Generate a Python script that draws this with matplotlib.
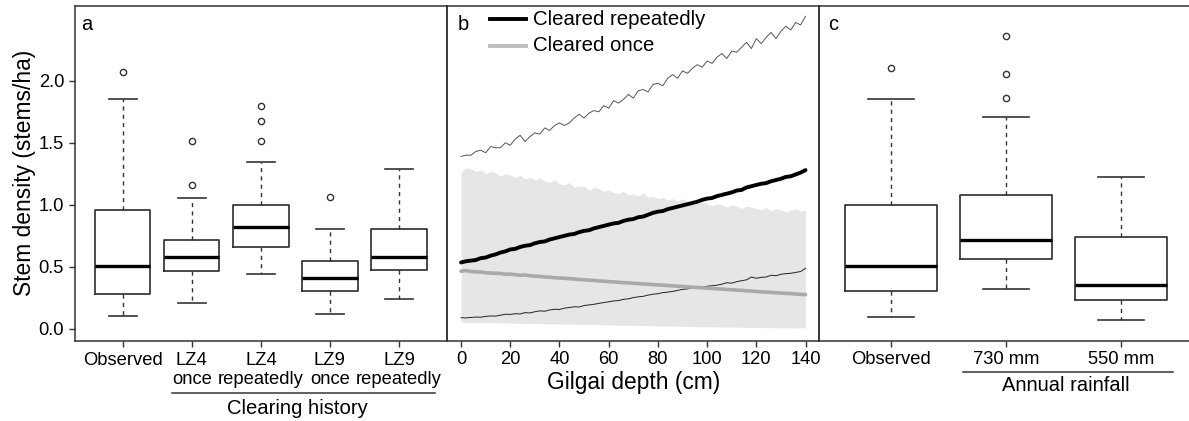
import matplotlib
matplotlib.use("Agg")
import matplotlib.pyplot as plt

plt.rcParams['font.family'] = ['Liberation Sans', 'DejaVu Sans']

# ---------------- data ----------------
# Panel a: clearing history
cats_a = ["Observed", "LZ4\nonce", "LZ4\nrepeatedly", "LZ9\nonce", "LZ9\nrepeatedly"]
a_whislo = [0.10, 0.21, 0.444, 0.118, 0.237]
a_q1 = [0.28, 0.465, 0.657, 0.304, 0.473]
a_med = [0.503, 0.581, 0.818, 0.412, 0.576]
a_q3 = [0.955, 0.716, 0.999, 0.546, 0.802]
a_whishi = [1.85, 1.052, 1.343, 0.802, 1.292]
a_fliers = [[2.073], [1.515, 1.163], [1.80, 1.675, 1.515], [1.066], []]

# Panel b: gilgai depth
depth = list(range(0, 141, 2))
rep_upper = [1.39, 1.40, 1.40, 1.43, 1.44, 1.42, 1.47, 1.46, 1.46, 1.50,
             1.48, 1.53, 1.56, 1.51, 1.55, 1.58, 1.57, 1.62, 1.60, 1.64,
             1.66, 1.64, 1.66, 1.70, 1.73, 1.70, 1.74, 1.76, 1.75, 1.80,
             1.78, 1.84, 1.82, 1.85, 1.89, 1.86, 1.92, 1.93, 1.91, 1.97,
             1.98, 1.96, 2.02, 2.05, 2.02, 2.08, 2.06, 2.10, 2.13, 2.11,
             2.16, 2.14, 2.19, 2.22, 2.18, 2.24, 2.23, 2.27, 2.31, 2.26,
             2.34, 2.30, 2.35, 2.39, 2.34, 2.40, 2.44, 2.41, 2.47, 2.45,
             2.52]
rep_mean = [0.535, 0.545, 0.550, 0.555, 0.570, 0.575, 0.590, 0.600, 0.615, 0.625,
            0.640, 0.645, 0.660, 0.670, 0.675, 0.690, 0.700, 0.705, 0.720, 0.730,
            0.740, 0.750, 0.760, 0.765, 0.780, 0.790, 0.795, 0.810, 0.820, 0.830,
            0.840, 0.850, 0.855, 0.870, 0.880, 0.885, 0.900, 0.905, 0.920, 0.935,
            0.945, 0.950, 0.965, 0.975, 0.985, 0.995, 1.005, 1.015, 1.025, 1.040,
            1.050, 1.055, 1.070, 1.080, 1.090, 1.100, 1.115, 1.120, 1.140, 1.150,
            1.160, 1.170, 1.175, 1.190, 1.200, 1.210, 1.225, 1.230, 1.245, 1.260,
            1.280]
rep_lower = [0.090, 0.088, 0.092, 0.095, 0.094, 0.100, 0.104, 0.103, 0.110, 0.118,
             0.116, 0.122, 0.120, 0.131, 0.128, 0.138, 0.145, 0.142, 0.152, 0.158,
             0.156, 0.167, 0.172, 0.178, 0.176, 0.188, 0.193, 0.198, 0.205, 0.212,
             0.218, 0.225, 0.228, 0.238, 0.242, 0.252, 0.258, 0.262, 0.272, 0.279,
             0.283, 0.292, 0.296, 0.302, 0.310, 0.318, 0.322, 0.330, 0.335, 0.339,
             0.343, 0.348, 0.352, 0.360, 0.372, 0.368, 0.380, 0.388, 0.395, 0.418,
             0.408, 0.415, 0.418, 0.432, 0.428, 0.440, 0.445, 0.448, 0.455, 0.462,
             0.488]
once_mean = [0.465, 0.470, 0.462, 0.460, 0.458, 0.452, 0.450, 0.448, 0.447, 0.440,
             0.442, 0.436, 0.432, 0.434, 0.428, 0.425, 0.423, 0.418, 0.417, 0.412,
             0.410, 0.408, 0.404, 0.402, 0.398, 0.396, 0.392, 0.391, 0.386, 0.384,
             0.381, 0.378, 0.376, 0.372, 0.371, 0.367, 0.365, 0.362, 0.360, 0.357,
             0.354, 0.352, 0.349, 0.347, 0.343, 0.342, 0.338, 0.336, 0.333, 0.331,
             0.328, 0.326, 0.323, 0.321, 0.317, 0.316, 0.312, 0.310, 0.307, 0.305,
             0.301, 0.299, 0.296, 0.294, 0.291, 0.289, 0.286, 0.284, 0.281, 0.278,
             0.276]
once_upper = [1.26, 1.30, 1.29, 1.27, 1.28, 1.25, 1.27, 1.26, 1.23, 1.25,
              1.24, 1.22, 1.24, 1.21, 1.22, 1.20, 1.22, 1.19, 1.18, 1.20,
              1.17, 1.16, 1.18, 1.14, 1.15, 1.15, 1.12, 1.14, 1.13, 1.11,
              1.12, 1.10, 1.09, 1.11, 1.08, 1.09, 1.07, 1.10, 1.06, 1.07,
              1.05, 1.06, 1.04, 1.05, 1.03, 1.05, 1.02, 1.03, 1.01, 1.02,
              1.01, 0.99, 1.01, 1.00, 0.98, 1.00, 0.99, 0.97, 0.99, 0.98,
              0.97, 0.96, 0.98, 0.95, 0.97, 0.96, 0.94, 0.96, 0.97, 0.95,
              0.96]
once_lower = [0.054, 0.052, 0.053, 0.050, 0.051, 0.049, 0.050, 0.048, 0.047, 0.048,
              0.046, 0.045, 0.046, 0.044, 0.043, 0.044, 0.042, 0.041, 0.040, 0.041,
              0.039, 0.038, 0.039, 0.037, 0.036, 0.035, 0.036, 0.034, 0.033, 0.032,
              0.033, 0.031, 0.030, 0.029, 0.030, 0.028, 0.027, 0.026, 0.027, 0.025,
              0.024, 0.023, 0.024, 0.022, 0.021, 0.020, 0.021, 0.019, 0.018, 0.017,
              0.018, 0.016, 0.015, 0.016, 0.014, 0.013, 0.014, 0.012, 0.011, 0.012,
              0.010, 0.011, 0.009, 0.010, 0.008, 0.009, 0.008, 0.009, 0.007, 0.008,
              0.008]

# Panel c: annual rainfall
cats_c = ["Observed", "730 mm", "550 mm"]
c_whislo = [0.094, 0.32, 0.075]
c_q1 = [0.307, 0.565, 0.229]
c_med = [0.503, 0.719, 0.35]
c_q3 = [0.996, 1.077, 0.74]
c_whishi = [1.855, 1.707, 1.222]
c_fliers = [[2.10], [2.361, 2.054, 1.863], []]

yticks = [0.0, 0.5, 1.0, 1.5, 2.0]
ytick_labels = ["0.0", "0.5", "1.0", "1.5", "2.0"]
xticks_b = [0, 20, 40, 60, 80, 100, 120, 140]

# ---------------- figure ----------------
W, H = 1189, 421
fig = plt.figure(figsize=(W / 100, H / 100), dpi=100)

def rect(x0, x1, ytop, ybot):
    return [x0 / W, 1 - ybot / H, (x1 - x0) / W, (ybot - ytop) / H]

AX_TOP, AX_BOT = 6, 340.5
ax_a = fig.add_axes(rect(74.5, 447.3, AX_TOP, AX_BOT))
ax_b = fig.add_axes(rect(447.3, 819.3, AX_TOP, AX_BOT))
ax_c = fig.add_axes(rect(819.3, 1192.4, AX_TOP, AX_BOT))

def ay(px):
    # pixel row -> axes fraction (shared by all panels)
    return (AX_BOT - px) / (AX_BOT - AX_TOP)

YLIM = (-0.094, 2.603)
SP = '#333333'
TICK_FS = 13.2
LAB_FS = 16.4

for ax in (ax_a, ax_b, ax_c):
    ax.set_ylim(*YLIM)
    for s in ax.spines.values():
        s.set_color(SP)
        s.set_linewidth(1.1)
    ax.tick_params(direction='out', length=4.5, width=1.0, color=SP,
                   labelsize=TICK_FS, pad=3)
    ax.patch.set_alpha(0)

def stats(labels, lo, q1, med, q3, hi, fl):
    out = []
    for i in range(len(labels)):
        out.append(dict(label=labels[i], whislo=lo[i], q1=q1[i], med=med[i],
                        q3=q3[i], whishi=hi[i], fliers=fl[i]))
    return out

bx_kw = dict(
    widths=0.8, capwidths=0.4, patch_artist=False, showfliers=True,
    boxprops=dict(color=SP, linewidth=1.25),
    medianprops=dict(color='black', linewidth=2.4, solid_capstyle='butt'),
    whiskerprops=dict(color=SP, linewidth=1.0, linestyle=(0, (3, 3))),
    capprops=dict(color=SP, linewidth=1.2),
    flierprops=dict(marker='o', markersize=4.5, markerfacecolor='none',
                    markeredgecolor=SP, markeredgewidth=1.0),
)

# ---- panel a ----
pos_a = list(range(1, len(cats_a) + 1))
sa = stats(cats_a, a_whislo, a_q1, a_med, a_q3, a_whishi, a_fliers)
ax_a.bxp(sa, positions=pos_a, **bx_kw)
ax_a.set_xlim(0.3, len(cats_a) + 0.7)
ax_a.set_xticks(pos_a)
ax_a.set_xticklabels([""] * len(cats_a))
tr_a = ax_a.get_xaxis_transform()
for p, lab in zip(pos_a, cats_a):
    for j, line in enumerate(lab.split("\n")):
        ax_a.text(p, ay(365.0 + 18.5 * j), line, transform=tr_a,
                  fontsize=TICK_FS, ha='center', va='baseline')
ax_a.set_yticks(yticks)
ax_a.set_yticklabels(ytick_labels)
ax_a.set_ylabel("Stem density (stems/ha)", fontsize=LAB_FS, labelpad=2)
ax_a.text(0.034, 0.946, "a", transform=ax_a.transAxes, fontsize=14.5,
          ha='center', va='center')
ax_a.plot([1.706, 5.52], [ay(392.5), ay(392.5)], transform=tr_a, color=SP,
          lw=1.1, clip_on=False)
ax_a.text(3.535, ay(408), "Clearing history", transform=tr_a, fontsize=14.6,
          ha='center', va='center')

# ---- panel b ----
ax_b.fill_between(depth, once_lower, once_upper, color='#e6e6e6', lw=0)
ax_b.plot(depth, rep_upper, color='#555555', lw=0.7)
ax_b.plot(depth, rep_lower, color='#222222', lw=0.7)
ax_b.plot(depth, once_mean, color='#a9a9a9', lw=2.6, solid_capstyle='round')
ax_b.plot(depth, rep_mean, color='black', lw=2.8, solid_capstyle='round')
ax_b.set_xlim(-5.6, 145.6)
ax_b.set_xticks(xticks_b)
ax_b.set_yticks([])
ax_b.set_xlabel("Gilgai depth (cm)", fontsize=LAB_FS, labelpad=2)
ax_b.text(0.042, 0.946, "b", transform=ax_b.transAxes, fontsize=14.5,
          ha='center', va='center')
ax_b.plot([0.115, 0.212], [0.961, 0.961], transform=ax_b.transAxes,
          color='black', lw=2.8)
ax_b.plot([0.115, 0.212], [0.881, 0.881], transform=ax_b.transAxes,
          color='#bdbdbd', lw=2.8)
ax_b.text(0.2296, 0.961, "Cleared repeatedly", transform=ax_b.transAxes,
          fontsize=14.7, ha='left', va='center')
ax_b.text(0.2296, 0.881, "Cleared once", transform=ax_b.transAxes,
          fontsize=14.7, ha='left', va='center')

# ---- panel c ----
pos_c = list(range(1, len(cats_c) + 1))
sc = stats(cats_c, c_whislo, c_q1, c_med, c_q3, c_whishi, c_fliers)
ax_c.bxp(sc, positions=pos_c, **bx_kw)
ax_c.set_xlim(0.38, len(cats_c) + 0.62)
ax_c.set_xticks(pos_c)
ax_c.set_xticklabels(cats_c)
ax_c.set_yticks([])
ax_c.text(0.037, 0.946, "c", transform=ax_c.transAxes, fontsize=14.5,
          ha='center', va='center')
tr_c = ax_c.get_xaxis_transform()
ax_c.plot([1.627, 3.448], [ay(371.7), ay(371.7)], transform=tr_c, color=SP,
          lw=1.1, clip_on=False)
ax_c.text(2.519, ay(385.7), "Annual rainfall", transform=tr_c, fontsize=14.5,
          ha='center', va='center')

fig.savefig("out.png", dpi=100)
